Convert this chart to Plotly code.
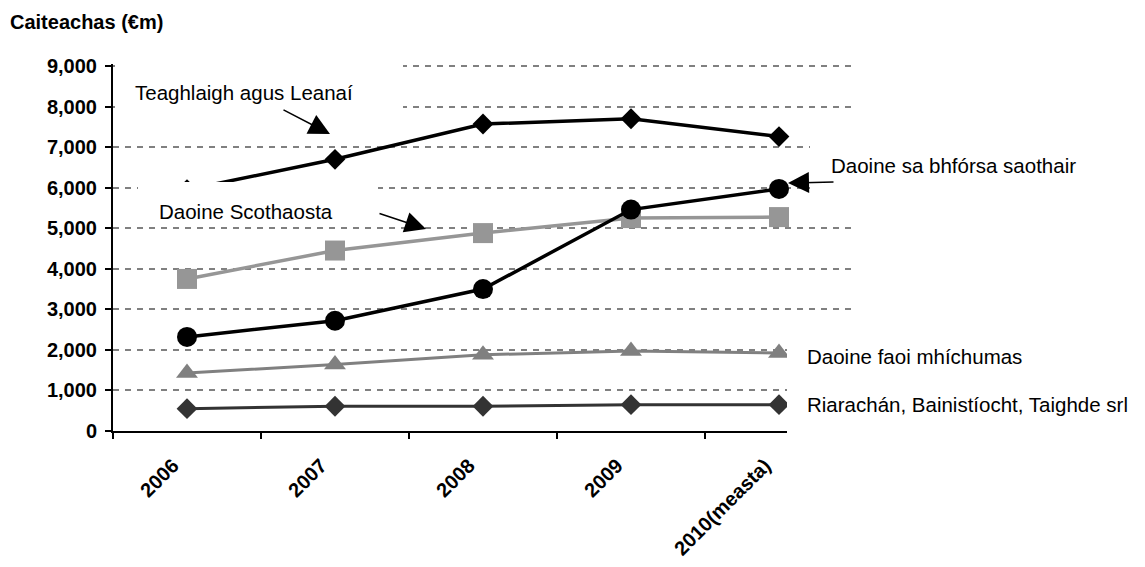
import plotly.graph_objects as go

categories = ["2006", "2007", "2008", "2009", "2010(measta)"]
teaghlaigh = [5950, 6700, 7570, 7700, 7260]
scothaosta = [3750, 4450, 4880, 5250, 5275]
forsa = [2320, 2720, 3500, 5460, 5970]
michumas = [1430, 1640, 1880, 1970, 1925]
riarachan = [550, 610, 610, 650, 650]

y_ticks = [0, 1000, 2000, 3000, 4000, 5000, 6000, 7000, 8000, 9000]
y_top = 9050

# page geometry (the figure sits at an 8px offset in the page)
PAGE_W, PAGE_H, OFF = 1145, 567, 8
W, H = PAGE_W - OFF, PAGE_H - OFF
L, R, B = 113, 853, 431
T = B - (B - 66) * y_top / 9000

def fx(px):
    return (px - L) / (R - L)

def fy(py):
    return (B - py) / (B - T)

FONT = "Liberation Sans, Arial, sans-serif"

fig = go.Figure()

series = [
    ("Riarachán, Bainistíocht, Taighde srl", riarachan, "#333333", "diamond", 16, 3),
    ("Daoine faoi mhíchumas", michumas, "#808080", "triangle-up", 19, 3),
    ("Daoine Scothaosta", scothaosta, "#969696", "square", 20, 3.5),
    ("Daoine sa bhfórsa saothair", forsa, "#000000", "circle", 20, 3.5),
    ("Teaghlaigh agus Leanaí", teaghlaigh, "#000000", "diamond", 16, 3.5),
]
for name, vals, col, sym, size, lw in series:
    fig.add_trace(go.Scatter(
        x=categories, y=vals, name=name, mode="lines+markers",
        line=dict(color=col, width=lw),
        marker=dict(color=col, symbol=sym, size=size, line=dict(width=0)),
        showlegend=False, cliponaxis=False,
    ))

# white text-box backgrounds covering grid/lines (as in the original)
boxes = [
    (115, 48, 403, 140),
    (138, 182, 378, 217),
    (810, 138, 1145, 205),
    (787, 330, 1145, 445),
]
shapes = []
for x0, y0, x1, y1 in boxes:
    shapes.append(dict(type="rect", xref="paper", yref="paper",
                       x0=fx(x0), x1=fx(x1), y0=fy(y1), y1=fy(y0),
                       fillcolor="white", line=dict(width=0), layer="above"))

annotations = []
annotations.append(dict(text="Caiteachas (€m)", xref="paper", yref="paper",
                        x=fx(8), y=fy(22), xanchor="left", yanchor="middle",
                        showarrow=False, font=dict(family=FONT, size=20, color="black", weight="bold")))
labels = [
    ("Teaghlaigh agus Leanaí", 133, 92),
    ("Daoine Scothaosta", 157, 211),
    ("Daoine sa bhfórsa saothair", 829, 165),
    ("Daoine faoi mhíchumas", 805, 356),
    ("Riarachán, Bainistíocht, Taighde srl", 805, 404),
]
for txt, px, py in labels:
    annotations.append(dict(text=txt, xref="paper", yref="paper", x=fx(px), y=fy(py),
                            xanchor="left", yanchor="middle", showarrow=False,
                            font=dict(family=FONT, size=20.5, color="black")))
arrows = [
    ((330, 134), (282, 109)),
    ((426, 229), (378, 213)),
    ((788, 183), (835, 182)),
]
for (tx, ty), (sx, sy) in arrows:
    annotations.append(dict(text="", xref="paper", yref="paper", x=fx(tx), y=fy(ty),
                            ax=sx - tx, ay=sy - ty, showarrow=True,
                            arrowhead=2, arrowsize=2.8, arrowwidth=1.5, arrowcolor="black",
                            standoff=0, startstandoff=0))

fig.update_layout(
    width=W, height=H,
    margin=dict(l=L - OFF, r=PAGE_W - R, t=T - OFF, b=PAGE_H - B, pad=0),
    paper_bgcolor="white", plot_bgcolor="white",
    shapes=shapes, annotations=annotations,
    xaxis=dict(type="category", categoryorder="array", categoryarray=categories,
               range=[-0.5, 4.5], showline=True, linecolor="black", linewidth=2,
               ticks="outside", ticklen=6, tickwidth=2, tickcolor="black",
               tickson="boundaries", tickangle=-45, showgrid=False, zeroline=False,
               ticklabelshift=-14, ticklabelstandoff=13,
               tickfont=dict(family=FONT, size=20, color="black", weight="bold"),
               automargin=False),
    yaxis=dict(range=[0, y_top], tickvals=y_ticks, tickformat=",d",
               showline=True, linecolor="black", linewidth=2,
               ticks="outside", ticklen=6, tickwidth=2, tickcolor="black",
               showgrid=True, gridcolor="#808080", gridwidth=2, griddash="6px,6px",
               zeroline=False, ticklabelstandoff=4,
               tickfont=dict(family=FONT, size=20, color="black", weight="bold"),
               automargin=False),
)

fig.write_html("out.html")
